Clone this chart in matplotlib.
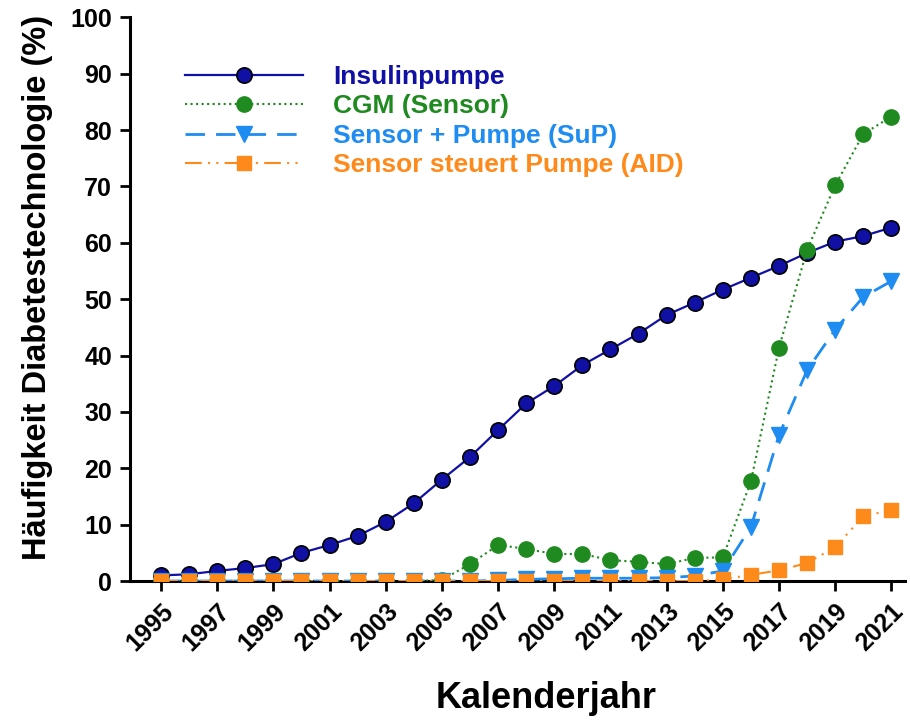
import numpy as np
import matplotlib.pyplot as plt

plt.rcParams['font.family'] = ['Liberation Sans', 'DejaVu Sans']
plt.rcParams['font.weight'] = 'bold'

# data (% of patients)
years = list(range(1995, 2022))
insulinpumpe = [1.0, 1.2, 1.8, 2.3, 3.0, 5.0, 6.4, 8.0, 10.5, 13.8, 18.0, 22.0, 26.8, 31.5, 34.6,
                38.3, 41.1, 43.9, 47.2, 49.4, 51.7, 53.8, 55.9, 58.2, 60.2, 61.2, 62.7]
cgm = [0, 0, 0, 0, 0, 0, 0, 0, 0, 0, 0.2, 3.0, 6.4, 5.7, 4.8,
       4.8, 3.7, 3.4, 3.0, 4.1, 4.2, 17.7, 41.4, 58.8, 70.2, 79.3, 82.4]
sup = [0, 0, 0, 0, 0, 0, 0, 0, 0, 0, 0, 0, 0.1, 0.3, 0.4,
       0.5, 0.5, 0.5, 0.6, 0.9, 1.8, 9.6, 25.9, 37.4, 44.6, 50.4, 53.2]
aid = [0, 0, 0, 0, 0, 0, 0, 0, 0, 0, 0, 0, 0, 0, 0,
       0, 0, 0, 0, 0, 0.3, 1.1, 1.9, 3.2, 6.0, 11.5, 12.6]

labels = ["Insulinpumpe", "CGM (Sensor)", "Sensor + Pumpe (SuP)", "Sensor steuert Pumpe (AID)"]
colors = ["#1010a4", "#1f8a1f", "#1e8cf0", "#ff8a1c"]

fig = plt.figure(figsize=(9.1, 7.2), dpi=100)
ax = fig.add_axes([0.143, 0.193, 0.852, 0.783])

ax.plot(years, insulinpumpe, color=colors[0], linestyle='-', linewidth=1.6,
        marker='o', markersize=11, markerfacecolor=colors[0], markeredgecolor='black',
        markeredgewidth=1.2, label=labels[0], zorder=3)
ax.plot(years, cgm, color=colors[1], linestyle=':', linewidth=1.5,
        marker='o', markersize=11, markerfacecolor=colors[1], markeredgecolor=colors[1],
        label=labels[1], zorder=4)
ax.plot(years, sup, color=colors[2], linestyle=(0, (7, 4)), linewidth=2,
        marker='v', markersize=11, markerfacecolor=colors[2], markeredgecolor=colors[2],
        label=labels[2], zorder=5)
ax.plot(years, aid, color=colors[3], linestyle=(0, (8, 3, 1, 3, 1, 3)), linewidth=1.5,
        marker='s', markersize=10, markerfacecolor=colors[3], markeredgecolor=colors[3],
        label=labels[3], zorder=6)

ax.set_xlim(1993.9, 2021.5)
ax.set_ylim(0, 100)
ax.set_xticks(range(1995, 2022, 2))
ax.set_yticks(range(0, 101, 10))
for s in ['top', 'right']:
    ax.spines[s].set_visible(False)
for s in ['left', 'bottom']:
    ax.spines[s].set_linewidth(2.2)
ax.tick_params(axis='both', direction='out', width=2, length=7, labelsize=18, pad=6)
plt.setp(ax.get_xticklabels(), rotation=45, ha='right', rotation_mode='anchor', fontweight='bold')
plt.setp(ax.get_yticklabels(), fontweight='bold')

ax.set_xlabel("Kalenderjahr", fontsize=26, fontweight='bold')
ax.xaxis.set_label_coords(0.537, -0.178)
ax.set_ylabel("Häufigkeit Diabetestechnologie (%)", fontsize=23.5, fontweight='bold')
ax.yaxis.set_label_coords(-0.1, 0.52)

leg = ax.legend(loc='upper left', bbox_to_anchor=(0.071, 0.915), frameon=False,
                fontsize=19, handlelength=4.47, handletextpad=1.14, labelspacing=0.2,
                borderaxespad=0, borderpad=0, labelcolor=colors)
for t in leg.get_texts():
    t.set_fontweight('bold')

plt.savefig("out.png", dpi=100)
